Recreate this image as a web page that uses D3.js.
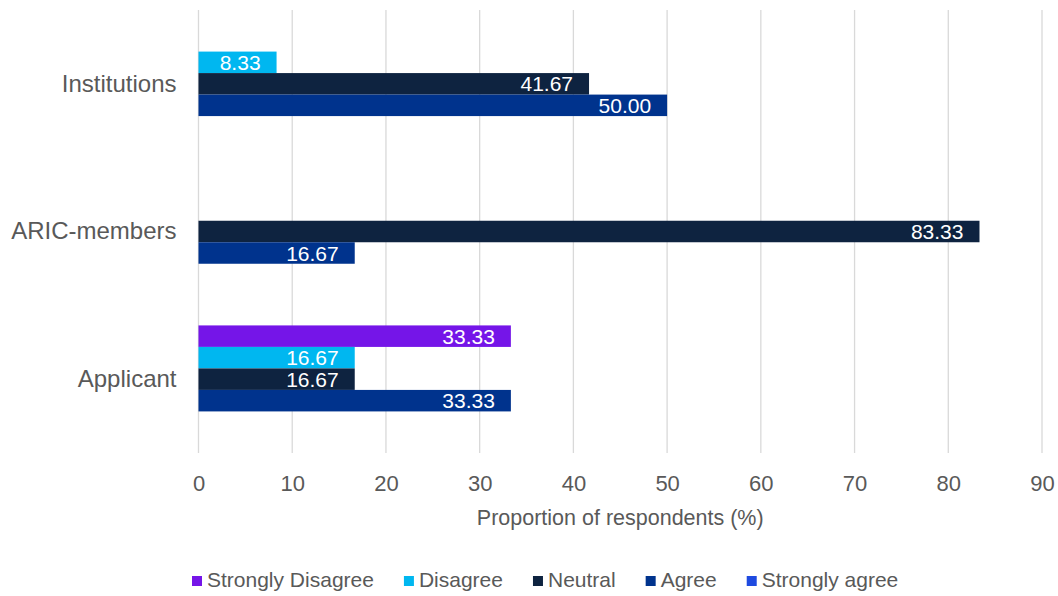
<!DOCTYPE html>
<html><head><meta charset="utf-8">
<script src="https://cdn.jsdelivr.net/npm/d3@7"></script>
<style>html,body{margin:0;padding:0;background:#fff;}svg{display:block;font-family:"Liberation Sans",Arial,sans-serif;}</style>
</head><body>
<svg id="c" width="1058" height="596"></svg>
<script>
const categories = ["Institutions", "ARIC-members", "Applicant"];
const seriesNames = ["Strongly Disagree", "Disagree", "Neutral", "Agree", "Strongly agree"];
const stronglyDisagree = [0, 0, 33.33];
const disagree = [8.33, 0, 16.67];
const neutral = [41.67, 83.33, 16.67];
const agree = [50.00, 16.67, 33.33];
const stronglyAgree = [0, 0, 0];
const xTicks = [0, 10, 20, 30, 40, 50, 60, 70, 80, 90];
const colors = ["#7515E8", "#00B7F0", "#0E2340", "#00338D", "#1F4AE0"];
const seriesValues = [stronglyDisagree, disagree, neutral, agree, stronglyAgree];

(function () {
const svg = d3.select("#c");
const pLeft = 198.5, pRight = 1042, pTop = 10, pBottom = 453;
const x = d3.scaleLinear().domain([0, 90]).range([pLeft, pRight]);
const y = d3.scaleBand().domain(categories).range([pTop, pBottom]).paddingInner(0.272).paddingOuter(0.136);
const yi = d3.scaleBand().domain(seriesNames).range([0, y.bandwidth()]).padding(0);
const textColor = "#595959";
const ff = '"Liberation Sans",Arial,sans-serif';

// gridlines
svg.append("g").selectAll("line").data(xTicks).join("line")
  .attr("x1", d => x(d)).attr("x2", d => x(d))
  .attr("y1", pTop).attr("y2", pBottom)
  .attr("stroke", "#d9d9d9").attr("stroke-width", 1.3);

// x axis
const xAxis = svg.append("g").attr("transform", `translate(0,${pBottom})`)
  .call(d3.axisBottom(x).tickValues(xTicks).tickSize(0).tickPadding(22).tickFormat(d3.format("d")));
xAxis.select(".domain").remove();
xAxis.selectAll("text").attr("fill", textColor).attr("font-size", 22).attr("font-family", ff);

// y axis
const yAxis = svg.append("g").attr("transform", `translate(${pLeft},0)`)
  .call(d3.axisLeft(y).tickSize(0).tickPadding(22));
yAxis.select(".domain").remove();
yAxis.selectAll("text").attr("fill", textColor).attr("font-size", 24).attr("font-family", ff);

// bars
const rows = [];
categories.forEach((c, ci) => {
  seriesNames.forEach((s, si) => {
    rows.push({cat: c, series: s, si, value: seriesValues[si][ci]});
  });
});
const visible = rows.filter(d => d.value > 0);
const g = svg.append("g");
g.selectAll("rect").data(visible).join("rect")
  .attr("x", x(0))
  .attr("y", d => y(d.cat) + yi(d.series))
  .attr("width", d => x(d.value) - x(0))
  .attr("height", yi.bandwidth())
  .attr("fill", d => colors[d.si]);
g.selectAll("text").data(visible).join("text")
  .attr("x", d => x(d.value) - 16)
  .attr("y", d => y(d.cat) + yi(d.series) + yi.bandwidth() / 2)
  .attr("dy", "0.36em")
  .attr("text-anchor", "end")
  .attr("fill", "#fff")
  .attr("font-size", 21)
  .text(d => d.value.toFixed(2));

// axis title
svg.append("text").attr("x", (pLeft + pRight) / 2).attr("y", 525)
  .attr("text-anchor", "middle").attr("fill", textColor).attr("font-size", 21.5)
  .text("Proportion of respondents (%)");

// legend
const lg = svg.append("g");
let lx = 192;
seriesNames.forEach((s, i) => {
  lg.append("rect").attr("x", lx).attr("y", 576).attr("width", 10).attr("height", 10).attr("fill", colors[i]);
  const t = lg.append("text").attr("x", lx + 15).attr("y", 587).attr("fill", textColor).attr("font-size", 21).text(s);
  lx += 15 + t.node().getComputedTextLength() + 30;
});
})();
</script>
</body></html>
